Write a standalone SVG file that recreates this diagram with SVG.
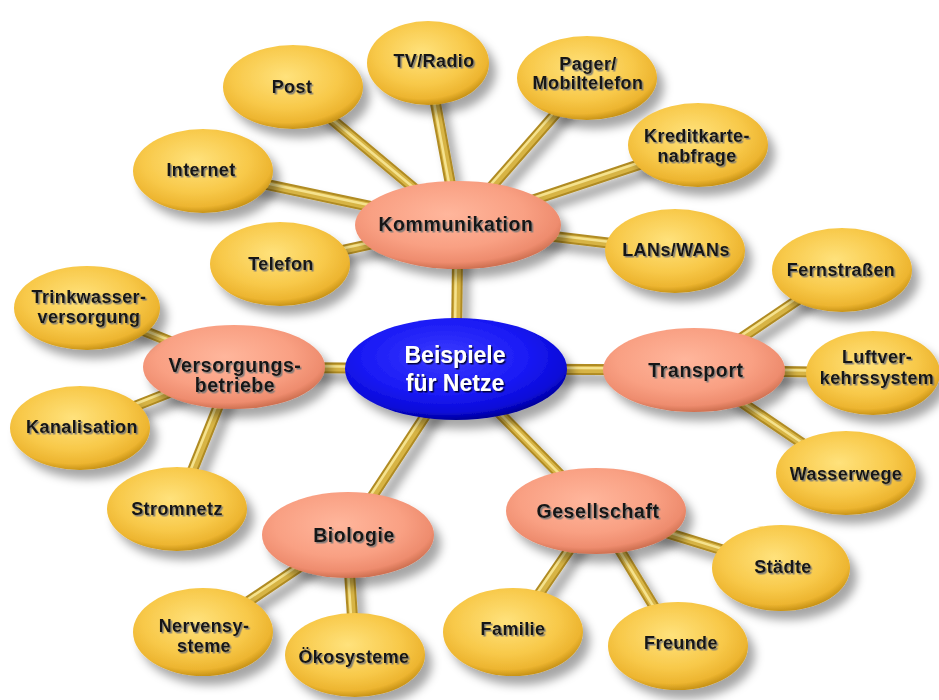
<svg xmlns="http://www.w3.org/2000/svg" xmlns:xlink="http://www.w3.org/1999/xlink" width="939" height="700" viewBox="0 0 939 700">
<defs>
<radialGradient id="gY" cx="0.45" cy="0.38" r="0.62">
<stop offset="0" stop-color="#FFE27C"/>
<stop offset="0.6" stop-color="#F8C94A"/>
<stop offset="0.88" stop-color="#EDB530"/>
<stop offset="1" stop-color="#C99418"/>
</radialGradient>
<radialGradient id="gS" cx="0.45" cy="0.38" r="0.62">
<stop offset="0" stop-color="#FFB69C"/>
<stop offset="0.6" stop-color="#F9A083"/>
<stop offset="0.88" stop-color="#EE8C6E"/>
<stop offset="1" stop-color="#CF7152"/>
</radialGradient>
<radialGradient id="gB" cx="0.45" cy="0.38" r="0.62">
<stop offset="0" stop-color="#3B3BFF"/>
<stop offset="0.6" stop-color="#1A1AF5"/>
<stop offset="0.88" stop-color="#0A0AD8"/>
<stop offset="1" stop-color="#00009A"/>
</radialGradient>
<filter id="sh" x="-20%" y="-20%" width="150%" height="160%">
<feDropShadow dx="7" dy="9" stdDeviation="5" flood-color="#000" flood-opacity="0.35"/>
</filter>
<filter id="tsh" x="-10%" y="-30%" width="120%" height="160%">
<feDropShadow dx="1.5" dy="1.5" stdDeviation="0.6" flood-color="#777" flood-opacity="0.9"/>
</filter>
<filter id="wsh" x="-10%" y="-30%" width="120%" height="160%">
<feDropShadow dx="1.5" dy="1.5" stdDeviation="0.6" flood-color="#000033" flood-opacity="0.9"/>
</filter>
<g id="rodlines" fill="none" stroke-linecap="butt">
<line x1="458" y1="225" x2="456" y2="369"/>
<line x1="234" y1="367" x2="456" y2="369"/>
<line x1="456" y1="369" x2="694" y2="370"/>
<line x1="456" y1="369" x2="347" y2="535"/>
<line x1="456" y1="369" x2="596" y2="511"/>
<line x1="293" y1="87" x2="458" y2="225"/>
<line x1="428" y1="63" x2="458" y2="225"/>
<line x1="587" y1="78" x2="458" y2="225"/>
<line x1="698" y1="145" x2="458" y2="225"/>
<line x1="203" y1="171" x2="458" y2="225"/>
<line x1="280" y1="264" x2="458" y2="225"/>
<line x1="675" y1="251" x2="458" y2="225"/>
<line x1="87" y1="308" x2="234" y2="367"/>
<line x1="80" y1="428" x2="234" y2="367"/>
<line x1="177" y1="509" x2="234" y2="367"/>
<line x1="842" y1="270" x2="694" y2="370"/>
<line x1="873" y1="373" x2="694" y2="370"/>
<line x1="846" y1="473" x2="694" y2="370"/>
<line x1="203" y1="632" x2="347" y2="535"/>
<line x1="355" y1="655" x2="347" y2="535"/>
<line x1="513" y1="632" x2="596" y2="511"/>
<line x1="678" y1="646" x2="596" y2="511"/>
<line x1="781" y1="568" x2="596" y2="511"/>
</g>
</defs>
<style>
.leaf{fill:url(#gY);filter:url(#sh)}
.hub{fill:url(#gS);filter:url(#sh)}
.core{fill:url(#gB);filter:url(#sh)}
text{font-family:"Liberation Sans",Arial,Helvetica,sans-serif;font-weight:bold;text-anchor:middle}
.t{font-size:18px;fill:#141414;filter:url(#tsh);letter-spacing:0.4px}
.th{font-size:19.5px;fill:#141414;filter:url(#tsh);letter-spacing:0.6px}
.tc{font-size:23px;fill:#FFFFFF;filter:url(#wsh)}
</style>
<rect width="939" height="700" fill="#FFFFFF"/>
<g id="connectors">
<use xlink:href="#rodlines" stroke="#B08B24" stroke-width="11" filter="url(#sh)"/>
<use xlink:href="#rodlines" stroke="#D7B445" stroke-width="7"/>
<use xlink:href="#rodlines" stroke="#F5E28E" stroke-width="2.5" transform="translate(-1.5,-1.5)"/>
</g>
<g id="n-kommunikation"><ellipse class="hub" cx="458" cy="225" rx="103" ry="44"/><text class="th" x="456" y="231">Kommunikation</text></g>
<g id="n-versorgung"><ellipse class="hub" cx="234" cy="367" rx="91" ry="42"/><text class="th" x="235" y="372">Versorgungs-</text><text class="th" x="235" y="392">betriebe</text></g>
<g id="n-transport"><ellipse class="hub" cx="694" cy="370" rx="91" ry="42"/><text class="th" x="696" y="377">Transport</text></g>
<g id="n-biologie"><ellipse class="hub" cx="348" cy="535" rx="86" ry="43"/><text class="th" x="354" y="542">Biologie</text></g>
<g id="n-gesellschaft"><ellipse class="hub" cx="596" cy="511" rx="90" ry="43"/><text class="th" x="598" y="518">Gesellschaft</text></g>
<g id="n-center"><ellipse class="core" cx="456" cy="369" rx="111" ry="51"/><text class="tc" x="455" y="363">Beispiele</text><text class="tc" x="455" y="391">für Netze</text></g>
<g id="n-post"><ellipse class="leaf" cx="293" cy="87" rx="70" ry="42"/><text class="t" x="292" y="93">Post</text></g>
<g id="n-tvradio"><ellipse class="leaf" cx="428" cy="63" rx="61" ry="42"/><text class="t" x="434" y="67">TV/Radio</text></g>
<g id="n-pager"><ellipse class="leaf" cx="587" cy="78" rx="70" ry="42"/><text class="t" x="588" y="70">Pager/</text><text class="t" x="588" y="89">Mobiltelefon</text></g>
<g id="n-kredit"><ellipse class="leaf" cx="698" cy="145" rx="70" ry="42"/><text class="t" x="697" y="142">Kreditkarte-</text><text class="t" x="697" y="162">nabfrage</text></g>
<g id="n-internet"><ellipse class="leaf" cx="203" cy="171" rx="70" ry="42"/><text class="t" x="201" y="176">Internet</text></g>
<g id="n-telefon"><ellipse class="leaf" cx="280" cy="264" rx="70" ry="42"/><text class="t" x="281" y="270">Telefon</text></g>
<g id="n-lans"><ellipse class="leaf" cx="675" cy="251" rx="70" ry="42"/><text class="t" x="676" y="256">LANs/WANs</text></g>
<g id="n-trinkwasser"><ellipse class="leaf" cx="87" cy="308" rx="73" ry="42"/><text class="t" x="89" y="303">Trinkwasser-</text><text class="t" x="89" y="323">versorgung</text></g>
<g id="n-kanalisation"><ellipse class="leaf" cx="80" cy="428" rx="70" ry="42"/><text class="t" x="82" y="433">Kanalisation</text></g>
<g id="n-stromnetz"><ellipse class="leaf" cx="177" cy="509" rx="70" ry="42"/><text class="t" x="177" y="515">Stromnetz</text></g>
<g id="n-fernstrassen"><ellipse class="leaf" cx="842" cy="270" rx="70" ry="42"/><text class="t" x="841" y="276">Fernstraßen</text></g>
<g id="n-luftverkehr"><ellipse class="leaf" cx="873" cy="373" rx="67" ry="42"/><text class="t" x="877" y="363">Luftver-</text><text class="t" x="877" y="384">kehrssystem</text></g>
<g id="n-wasserwege"><ellipse class="leaf" cx="846" cy="473" rx="70" ry="42"/><text class="t" x="846" y="480">Wasserwege</text></g>
<g id="n-staedte"><ellipse class="leaf" cx="781" cy="568" rx="69" ry="43"/><text class="t" x="783" y="573">Städte</text></g>
<g id="n-freunde"><ellipse class="leaf" cx="678" cy="646" rx="70" ry="44"/><text class="t" x="681" y="649">Freunde</text></g>
<g id="n-familie"><ellipse class="leaf" cx="513" cy="632" rx="70" ry="44"/><text class="t" x="513" y="635">Familie</text></g>
<g id="n-oekosysteme"><ellipse class="leaf" cx="355" cy="655" rx="70" ry="42"/><text class="t" x="354" y="663">Ökosysteme</text></g>
<g id="n-nervensysteme"><ellipse class="leaf" cx="203" cy="632" rx="70" ry="44"/><text class="t" x="204" y="632">Nervensy-</text><text class="t" x="204" y="652">steme</text></g>
</svg>
